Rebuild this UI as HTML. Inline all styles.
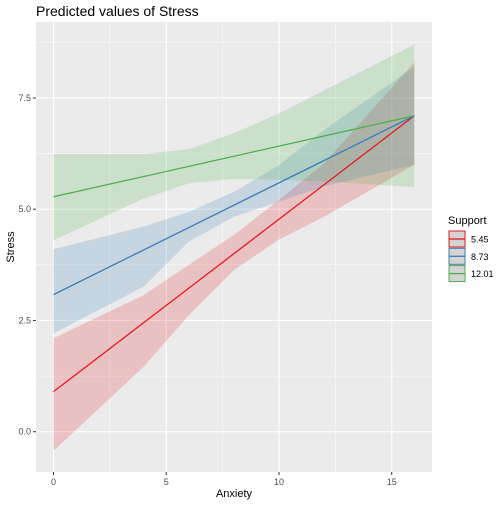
<!DOCTYPE html>
<html><head><meta charset="utf-8"><style>body{margin:0;background:#fff}svg{font-family:"Liberation Sans",sans-serif}</style></head>
<body>
<svg id="c" width="504" height="504"></svg>
<script>
const xVals=[0,4,6,8,10,12,16];
const groups=["5.45","8.73","12.01"];
const colors=["#E41A1C","#377EB8","#4DAF4A"];
const lineStart=[0.9,3.08,5.28];
const lineEnd=[7.1,7.1,7.1];
const upperRed=[2.1,3.07,3.75,4.42,5.21,6.03,8.3];
const lowerRed=[-0.43,1.46,2.62,3.63,4.32,4.83,6.0];
const upperBlue=[4.1,4.61,4.94,5.39,5.99,6.78,8.2];
const lowerBlue=[2.21,3.26,4.27,4.83,5.17,5.51,6.0];
const upperGreen=[6.24,6.24,6.35,6.71,7.15,7.67,8.7];
const lowerGreen=[4.3,5.24,5.58,5.68,5.66,5.62,5.5];
const xTicks=[0,5,10,15];
const yTicks=[0,2.5,5,7.5];
const yTickLabels=["0.0","2.5","5.0","7.5"];

const NS="http://www.w3.org/2000/svg";
const svg=document.getElementById('c');
const L=36,R=432,T=22,B=472;
const X=v=>53.5+v*22.55;
const Y=v=>431.7-v*44.5;
function el(t,a,p){const e=document.createElementNS(NS,t);for(const k in a)e.setAttribute(k,a[k]);(p||svg).appendChild(e);return e;}
const bg=el('rect',{x:L,y:T,width:R-L,height:B-T,fill:'#EBEBEB'});


for(let i=0;i<xTicks.length-1;i++){const v=(xTicks[i]+xTicks[i+1])/2;el('line',{x1:X(v),x2:X(v),y1:T,y2:B,stroke:'#fff','stroke-width':0.5});}
for(let i=0;i<yTicks.length-1;i++){const v=(yTicks[i]+yTicks[i+1])/2;el('line',{x1:L,x2:R,y1:Y(v),y2:Y(v),stroke:'#fff','stroke-width':0.5});}
el('line',{x1:L,x2:R,y1:Y(-1.25),y2:Y(-1.25),stroke:'#fff','stroke-width':0.5});
el('line',{x1:L,x2:R,y1:Y(8.75),y2:Y(8.75),stroke:'#fff','stroke-width':0.5});
el('line',{x1:X(17.5),x2:X(17.5),y1:T,y2:B,stroke:'#fff','stroke-width':0.5});
xTicks.forEach(v=>{const g=el('line',{x1:X(v),x2:X(v),y1:T,y2:B,stroke:'#fff','stroke-width':1.1});

el('line',{x1:X(v),x2:X(v),y1:B,y2:B+3,stroke:'#333'});
const t=el('text',{x:X(v),y:B+13,'font-size':9,fill:'#4D4D4D','text-anchor':'middle'});t.textContent=v;
});
yTicks.forEach((v,i)=>{const g=el('line',{x1:L,x2:R,y1:Y(v),y2:Y(v),stroke:'#fff','stroke-width':1.1});

el('line',{x1:L-3,x2:L,y1:Y(v),y2:Y(v),stroke:'#333'});
const t=el('text',{x:L-5,y:Y(v)+3,'font-size':9,fill:'#4D4D4D','text-anchor':'end'});t.textContent=yTickLabels[i];
});
const uppers=[upperRed,upperBlue,upperGreen],lowers=[lowerRed,lowerBlue,lowerGreen];
const names=['red','blue','green'];
groups.forEach((g,i)=>{
 let pts=xVals.map((x,j)=>X(x)+','+Y(uppers[i][j]));
 pts=pts.concat(xVals.map((x,j)=>X(x)+','+Y(lowers[i][j])).reverse());
 const p=el('polygon',{points:pts.join(' '),fill:colors[i],'fill-opacity':0.2});
 
});
groups.forEach((g,i)=>{
 const l=el('line',{x1:X(xVals[0]),y1:Y(lineStart[i]),x2:X(xVals[xVals.length-1]),y2:Y(lineEnd[i]),stroke:colors[i],'stroke-width':1.3});
 
});
function txt(s,a,n){const t=el('text',a);t.textContent=s;return t;}
txt('Predicted values of Stress',{x:36,y:16,'font-size':14,fill:'#000'},'chart-title');
txt('Anxiety',{x:(L+R)/2,y:497,'font-size':11,fill:'#000','text-anchor':'middle'},'x-axis-title');
txt('Stress',{x:0,y:0,'font-size':11,fill:'#000','text-anchor':'middle',transform:`translate(14,${(T+B)/2}) rotate(-90)`},'y-axis-title');
txt('Support',{x:448,y:224,'font-size':11,fill:'#000'},'legend-title');
groups.forEach((g,i)=>{
 const y=231+i*17.3;
 const r=el('rect',{x:449,y:y,width:16,height:16,fill:'#D4D4D4',stroke:colors[i],'stroke-width':1});
 
 el('line',{x1:449,x2:465,y1:y+8,y2:y+8,stroke:colors[i],'stroke-width':1.3});
 txt(g,{x:471,y:y+11.5,'font-size':9,fill:'#000'},'legend-label');
});
</script>
</body></html>
